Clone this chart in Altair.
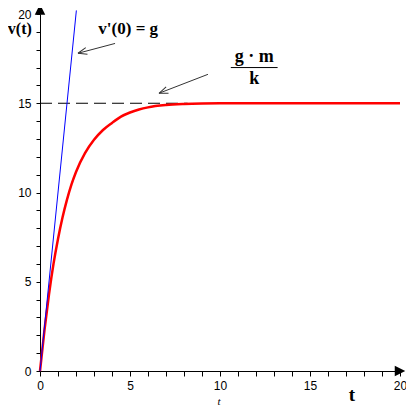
import altair as alt
import pandas as pd

# red curve v(t)
t_curve = [0, 0.25, 0.5, 0.75, 1.0, 1.25, 1.5, 1.75, 2.0, 2.5, 3.0, 3.5, 4.0, 4.5, 5.0, 5.5, 6.0, 7.0, 8.0, 9.0, 10.0, 12.0, 15.0, 20.0]
v_curve = [0, 2.3, 4.3, 6.0, 7.4, 8.6, 9.6, 10.45, 11.15, 12.2, 12.95, 13.5, 13.9, 14.25, 14.48, 14.65, 14.77, 14.9, 14.96, 14.99, 15.0, 15.0, 15.0, 15.0]

# tangent at t=0 (blue)
tan_t = [0, 2.02]
tan_v = [0, 20.2]

# dashed asymptote
asy_t = [0, 8.2]
asy_v = [15, 15]

# annotation arrows (tail -> tip)
arr_t1 = [4.17, 9.33]
arr_v1 = [18.35, 16.62]
arr_t2 = [2.11, 6.61]
arr_v2 = [17.8, 15.56]
arr_angle = [345, 339]

# texts
txt_label = ["v(t)", "v'(0) = g", "g · m", "k", "t"]
txt_t = [-1.12, 4.9, 11.9, 11.9, 17.33]
txt_v = [19.14, 19.14, 17.57, 16.34, -1.34]
txt_size = [16, 17, 18, 18, 19]

frac_t = [10.6]
frac_t2 = [13.2]
frac_v = [17.0]

small_t_label = ["t"]
small_t_t = [9.94]
small_t_v = [-1.73]

# axis arrow heads
ax_head_t = [20.0, 0.0]
ax_head_v = [0.0, 20.25]
ax_head_shape = ["M-1,-1L1,0L-1,1Z", "M-1,1L0,-1L1,1Z"]

xs = alt.Scale(domain=[0, 20], nice=False, zero=False)
ys = alt.Scale(domain=[0, 20], nice=False, zero=False)

lab_expr = "datum.value % 5 === 0 ? datum.label : ''"
xaxis = alt.Axis(values=list(range(21)), labelExpr=lab_expr, title=None, grid=False,
                 tickSize=5, labelFlush=False, labelOverlap=False, domainColor="black",
                 tickColor="black", labelColor="black", labelFont="Liberation Sans",
                 labelFontSize=12, labelPadding=4)
yaxis = alt.Axis(values=list(range(21)), labelExpr=lab_expr, title=None, grid=False,
                 tickSize=4, labelFlush=False, labelOverlap=False, domainColor="black",
                 tickColor="black", labelColor="black", labelFont="Liberation Sans",
                 labelFontSize=12, labelPadding=5)


def X(f):
    return alt.X(f, scale=xs, axis=xaxis)


def Y(f):
    return alt.Y(f, scale=ys, axis=yaxis)


curve_df = pd.DataFrame({"t": t_curve, "v": v_curve})
tan_df = pd.DataFrame({"t": tan_t, "v": tan_v})
asy_df = pd.DataFrame({"t": asy_t, "v": asy_v})
arr_df = pd.DataFrame({"t": arr_t1, "v": arr_v1, "t2": arr_t2, "v2": arr_v2, "ang": arr_angle})
txt_df = pd.DataFrame({"label": txt_label, "t": txt_t, "v": txt_v, "size": txt_size})
frac_df = pd.DataFrame({"t": frac_t, "t2": frac_t2, "v": frac_v})
small_df = pd.DataFrame({"label": small_t_label, "t": small_t_t, "v": small_t_v})
head_df = pd.DataFrame({"t": ax_head_t, "v": ax_head_v, "shape": ax_head_shape})

asym = alt.Chart(asy_df).mark_line(color="black", strokeWidth=1, strokeDash=[12, 6]).encode(
    x=X("t:Q"), y=Y("v:Q"))

curve = alt.Chart(curve_df).mark_line(color="#ff0000", strokeWidth=2.5, interpolate="monotone").encode(
    x=X("t:Q"), y=Y("v:Q"))

tangent = alt.Chart(tan_df).mark_line(color="#0000ff", strokeWidth=1).encode(
    x=X("t:Q"), y=Y("v:Q"))

arrows = alt.Chart(arr_df).mark_rule(color="#333333", strokeWidth=1).encode(
    x=X("t:Q"), y=Y("v:Q"), x2="t2:Q", y2="v2:Q")

heads = alt.Chart(arr_df).mark_point(shape="M0,0L2,-0.75M0,0L2,0.75", size=80, color="#333333",
                                     strokeWidth=1, opacity=1).encode(
    x=X("t2:Q"), y=Y("v2:Q"), angle=alt.Angle("ang:Q", scale=None))

texts = alt.Chart(txt_df).mark_text(font="Liberation Serif", fontWeight="bold", fill="black",
                                    align="center", baseline="middle").encode(
    x=X("t:Q"), y=Y("v:Q"), text="label:N", size=alt.Size("size:Q", scale=None, legend=None))

frac = alt.Chart(frac_df).mark_rule(color="black", strokeWidth=1).encode(
    x=X("t:Q"), x2="t2:Q", y=Y("v:Q"))

small = alt.Chart(small_df).mark_text(font="Liberation Serif", fontStyle="italic", fontSize=11,
                                      fill="black", align="center", baseline="middle").encode(
    x=X("t:Q"), y=Y("v:Q"), text="label:N")

axheads = alt.Chart(head_df).mark_point(filled=True, size=110, color="black", opacity=1).encode(
    x=X("t:Q"), y=Y("v:Q"), shape=alt.Shape("shape:N", scale=None, legend=None))

chart = alt.layer(asym, curve, tangent, arrows, heads, texts, frac, small, axheads).properties(
    width=360, height=357,
    autosize=alt.AutoSizeParams(type="none"),
    padding={"left": 32, "top": 6, "right": 6, "bottom": 35},
    background="white",
).configure_view(strokeWidth=0)

chart.save("out.html", embed_options={"renderer": "svg", "actions": False})
